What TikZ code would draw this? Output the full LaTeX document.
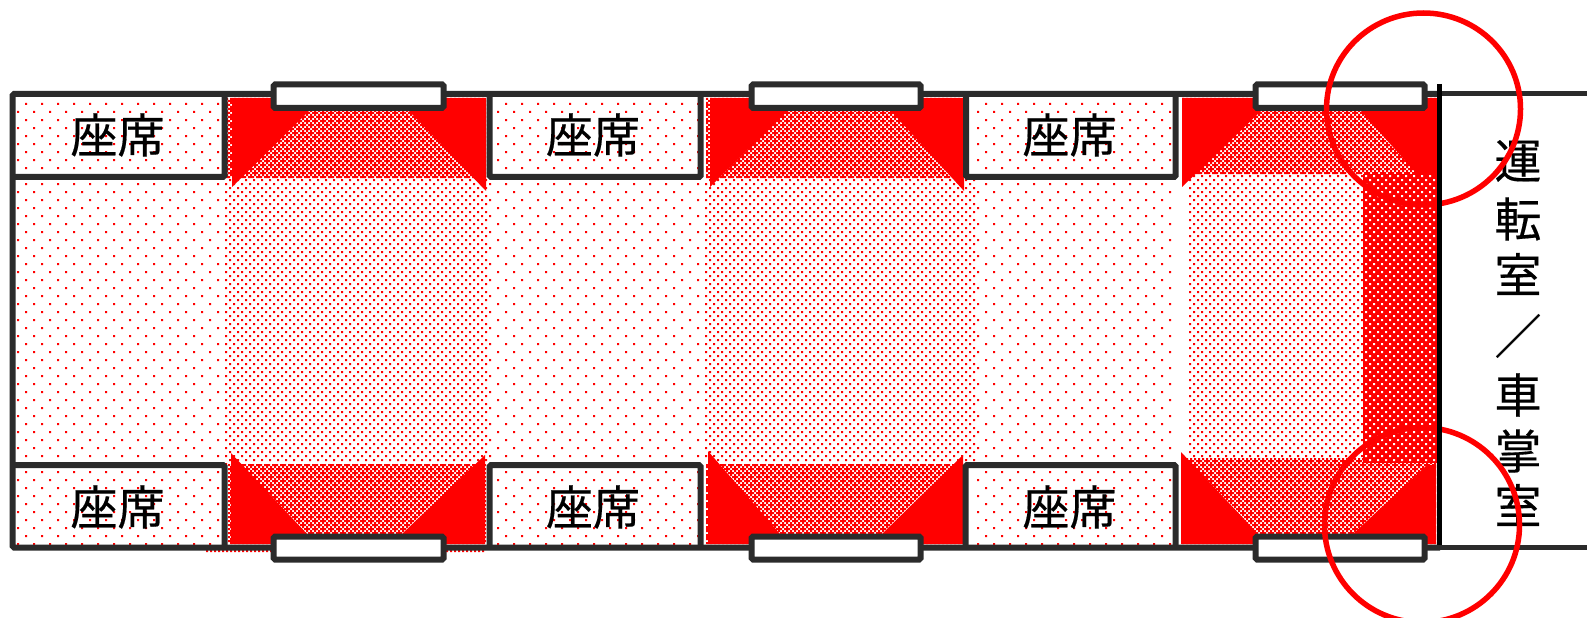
\documentclass[tikz,border=0pt]{standalone}
\usepackage{fontspec}
\newfontfamily\cjk[FakeBold=0.35]{Noto Sans CJK JP}
\definecolor{frame}{HTML}{2B2B2B}
\definecolor{pred}{HTML}{FF0000}
\newcount\dfX \newcount\dfY \newcount\dfT \newcount\dfQ \newcount\dfH \newcount\dfO
\def\dfrem#1#2{\dfT=\numexpr#1+16000\relax \dfQ=\dfT \divide\dfQ by #2 \multiply\dfQ by #2 \advance\dfT by -\dfQ}
% \dotfield{x0}{y0}{x1}{y1}{cell}{phase x}{phase y}{colour}: 2px squares on a staggered grid
\def\dotfield#1#2#3#4#5#6#7#8{%
  \begin{pgfscope}\pgfsetfillcolor{#8}%
  \dfH=\numexpr#5/2\relax
  \dfrem{#2-#7}{\dfH}%
  \dfY=#2 \ifnum\dfT>0 \advance\dfY by \numexpr\dfH-\dfT\relax\fi
  \loop\ifnum\dfY<\numexpr#4-1\relax
    \dfrem{\dfY-#7}{#5}%
    \ifnum\dfT=0 \dfO=0 \else \dfO=\dfH \fi
    \dfrem{#1-#6-\dfO}{#5}%
    \dfX=#1 \ifnum\dfT>0 \advance\dfX by \numexpr#5-\dfT\relax\fi
    {\loop\ifnum\dfX<\numexpr#3-1\relax
      \pgfpathrectangle{\pgfqpoint{\the\dfX bp}{\the\numexpr-\dfY-2\relax bp}}{\pgfqpoint{2bp}{2bp}}%
      \advance\dfX by #5
    \repeat}%
    \pgfusepath{fill}%
    \advance\dfY by \dfH
  \repeat
  \end{pgfscope}}
\def\sparsefield#1#2#3#4{\fill[white] (#1,#2) rectangle (#3,#4);\dotfield{#1}{#2}{#3}{#4}{16}{9}{7}{pred}}
\def\mediumfield#1#2#3#4{\fill[white] (#1,#2) rectangle (#3,#4);\dotfield{#1}{#2}{#3}{#4}{8}{1}{7}{pred}}
\def\checkerfield#1#2#3#4{\fill[white] (#1,#2) rectangle (#3,#4);\dotfield{#1}{#2}{#3}{#4}{4}{0}{0}{pred}\dotfield{#1}{#2}{#3}{#4}{8}{2}{0}{pred}}
\def\densefield#1#2#3#4{\fill[pred] (#1,#2) rectangle (#3,#4);\dotfield{#1}{#2}{#3}{#4}{8}{1}{3}{white}}
\tikzset{
  solid/.style={fill=pred},
  wall/.style={draw=frame,line width=6bp,rounded corners=1.5bp},
  doorbox/.style={draw=frame,line width=6bp,fill=white,rounded corners=1.5bp},
  ring/.style={draw=pred,line width=5.5bp},
  label/.style={font=\cjk\fontsize{47bp}{47bp}\selectfont,text=black,inner sep=0pt},
}
\begin{document}
\begin{tikzpicture}[x=1bp,y=-1bp]
\useasboundingbox (0,0) rectangle (1587,618);
\clip (0,0) rectangle (1587,618);
% base patterns
\sparsefield{15}{97}{222}{545}
\sparsefield{487}{97}{705}{545}
\sparsefield{975}{97}{1178}{545}
\mediumfield{222}{177}{489}{465}
\mediumfield{705}{177}{977}{465}
\mediumfield{1188}{175}{1363}{458}
\checkerfield{226}{97}{486}{179}
\checkerfield{705}{97}{964}{178}
\checkerfield{1182}{97}{1437}{174}
\checkerfield{228}{463}{486}{545}
\checkerfield{705}{463}{963}{545}
\checkerfield{1181}{458}{1436}{545}
\densefield{1363}{174}{1437}{463}
% solid triangles, top
\path[solid] (232,98) -- (274,98) -- (310,110) -- (232,187) -- cycle;
\path[solid] (486,98) -- (440,98) -- (408,110) -- (486,191) -- cycle;
\path[solid] (710,98) -- (752,98) -- (788,110) -- (710,187) -- cycle;
\path[solid] (964,98) -- (918,98) -- (890,110) -- (964,191) -- cycle;
\path[solid] (1182,98) -- (1258,98) -- (1262,110) -- (1182,187) -- cycle;
\path[solid] (1437,98) -- (1420,98) -- (1360,110) -- (1417,174) -- (1437,174) -- cycle;
% solid triangles, bottom
\path[solid] (231,453) -- (307,534) -- (274,544) -- (231,544) -- cycle;
\path[solid] (485,455) -- (402,534) -- (440,544) -- (485,544) -- cycle;
\path[solid] (708,451) -- (780,534) -- (752,544) -- (708,544) -- cycle;
\path[solid] (963,455) -- (882,534) -- (918,544) -- (963,544) -- cycle;
\path[solid] (1181,452) -- (1258,534) -- (1258,544) -- (1181,544) -- cycle;
\path[solid] (1436,465) -- (1427,465) -- (1353,534) -- (1353,544) -- (1436,544) -- cycle;
% small strip under the first bottom door
\dotfield{204}{550}{487}{553}{4}{0}{0}{pred}
% walls
\draw[wall] (1440,94) -- (12.5,94) -- (12.5,547.5) -- (1440,547.5);
\draw[draw=frame,line width=5bp] (1440,94) -- (1587,94);
\draw[draw=frame,line width=5bp] (1440,547.5) -- (1587,547.5);
\draw[wall] (12.5,177) -- (224.5,177) -- (224.5,94);
\draw[wall] (489.5,94) -- (489.5,177) -- (700.5,177) -- (700.5,94);
\draw[wall] (966,94) -- (966,177) -- (1175.5,177) -- (1175.5,94);
\draw[wall] (12.5,465) -- (224.5,465) -- (224.5,547.5);
\draw[wall] (489.5,547.5) -- (489.5,465) -- (700.5,465) -- (700.5,547.5);
\draw[wall] (965.5,547.5) -- (965.5,465) -- (1175.5,465) -- (1175.5,547.5);
% doors
\draw[doorbox] (273.5,84.5) rectangle (443.5,108);
\draw[doorbox] (751.5,84.5) rectangle (920.5,108);
\draw[doorbox] (1255.5,84.5) rectangle (1424.5,108);
\draw[doorbox] (273.5,536.5) rectangle (443.5,559.5);
\draw[doorbox] (751.5,536.5) rectangle (920.5,559.5);
\draw[doorbox] (1255.5,536.5) rectangle (1424.5,559.5);
% labels
\node[label] (s1) at (117.5,135) {座席};
\node[label] (s2) at (593,135) {座席};
\node[label] (s3) at (1069.5,135) {座席};
\node[label] (s4) at (117.5,507) {座席};
\node[label] (s5) at (593,507) {座席};
\node[label] (s6) at (1069.5,507) {座席};
\node[label] (c1) at (1518,161) {運};
\node[label] (c2) at (1518,219) {転};
\node[label] (c3) at (1518,274) {室};
\node[label] (c4) at (1518,336) {／};
\node[label] (c5) at (1518,395) {車};
\node[label] (c6) at (1518,451) {掌};
\node[label] (c7) at (1518,505) {室};
% rings
\draw[ring] (1423.5,109) ellipse [x radius=97,y radius=96];
\draw[ring] (1422,525) circle (97.5);
% partition
\draw[draw=black,line width=5.5bp] (1439.5,84) -- (1439.5,545);
\end{tikzpicture}
\end{document}
